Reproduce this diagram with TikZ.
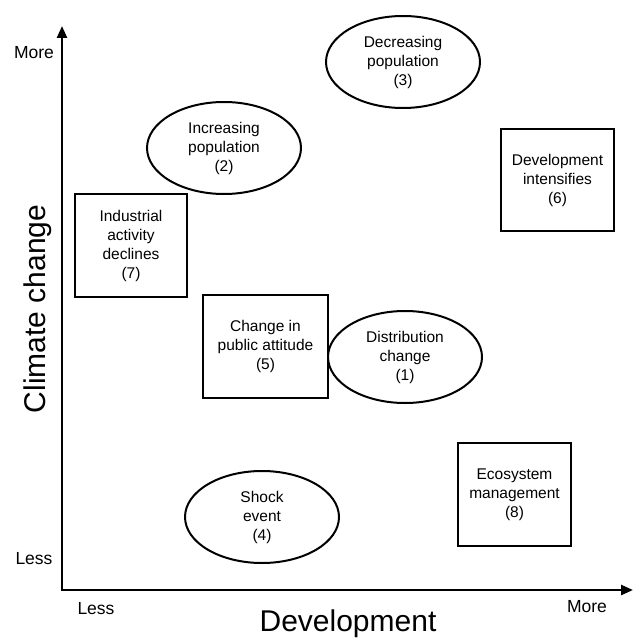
\documentclass[tikz,border=0pt]{standalone}
\usepackage{fontspec}
\setmainfont{Liberation Sans}
\usetikzlibrary{shapes.geometric,arrows.meta}
\begin{document}
\begin{tikzpicture}[x=1pt,y=-1pt,
 lbl/.style={font=\fontsize{15.5}{19}\selectfont, align=center, inner sep=0pt},
 oval/.style={lbl, ellipse, draw, line width=2pt, minimum width=154pt, minimum height=92pt},
 box/.style={lbl, rectangle, draw, line width=2.4pt},
 axislbl/.style={font=\fontsize{17.5}{20}\selectfont, inner sep=0pt},
 axistitle/.style={font=\fontsize{30}{34}\selectfont, inner sep=0pt},
 axisline/.style={line width=2.5pt, {Triangle[length=12pt,width=10pt]}-{Triangle[length=12pt,width=10pt]}}]
\useasboundingbox (0,0) rectangle (635,639);
% axes
\coordinate (ytip) at (62,26);
\coordinate (orig) at (62,590);
\coordinate (xtip) at (633,590);
\draw[axisline] (ytip) -- (orig) -- (xtip);
% axis labels
\node[axislbl] (ymore) at (34,53) {More};
\node[axislbl] (yless) at (34,559) {Less};
\node[axislbl] (xless) at (96,609) {Less};
\node[axislbl] (xmore) at (587,607) {More};
\node[axistitle, anchor=base] (xtitle) at (348,631.5) {Development};
\node[axistitle, anchor=base, rotate=90] (ytitle) at (45,309) {Climate change};
% ellipses
\node[oval] (n3) at (403,62) {Decreasing\\population\\(3)};
\node[oval] (n2) at (224,148) {Increasing\\population\\(2)};
\node[oval] (n1) at (405,357) {Distribution\\change\\(1)};
\node[oval] (n4) at (262,517) {Shock\\event\\(4)};
% boxes
\node[box, minimum width=112pt, minimum height=103pt] (n7) at (131,245.5) {Industrial\\activity\\declines\\(7)};
\node[box, minimum width=125pt, minimum height=103pt] (n5) at (265.5,346.5) {Change in\\public attitude\\(5)};
\node[box, minimum width=113pt, minimum height=102pt] (n6) at (557.5,180) {Development\\intensifies\\(6)};
\node[box, minimum width=113pt, minimum height=103pt] (n8) at (514.5,494.5) {Ecosystem\\management\\(8)};
\end{tikzpicture}
\end{document}
